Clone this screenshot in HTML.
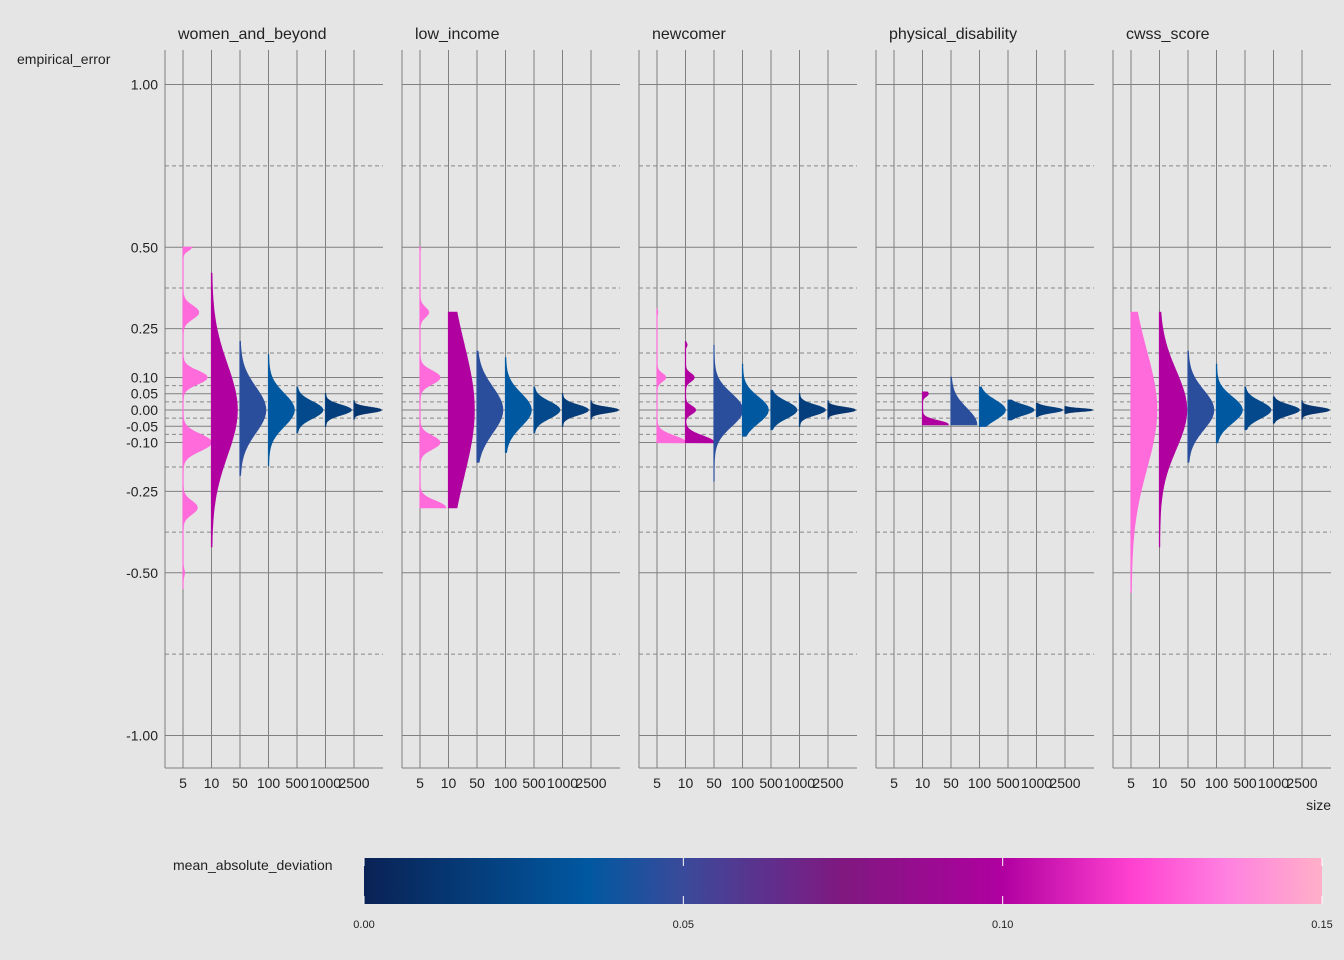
<!DOCTYPE html>
<html><head><meta charset="utf-8"><style>
body{margin:0;background:#e5e5e5;font-family:"Liberation Sans",sans-serif}
svg{display:block}
text{font-family:"Liberation Sans",sans-serif;fill:#222}
</style></head><body>
<svg id="c" width="1344" height="960"></svg>
<script>
const panels=["women_and_beyond","low_income","newcomer","physical_disability","cwss_score"];
const sizes=["5","10","50","100","500","1000","2500"];
const yTicks=[1,0.5,0.25,0.1,0.05,0,-0.05,-0.1,-0.25,-0.5,-1];
const yTickLabels=["1.00","0.50","0.25","0.10","0.05","0.00","-0.05","-0.10","-0.25","-0.50","-1.00"];
const yMinor=[0.75,0.375,0.175,0.075,0.025,-0.025,-0.075,-0.175,-0.375,-0.75];
const cbTicks=[0,0.05,0.10,0.15];
const cbLabels=["0.00","0.05","0.10","0.15"];
const madWomen=[0.13,0.10,0.046,0.035,0.025,0.018,0.012];
const madLow=[0.13,0.10,0.046,0.035,0.025,0.018,0.012];
const madNew=[0.13,0.10,0.046,0.035,0.025,0.018,0.012];
const madPhys=[null,0.10,0.046,0.035,0.025,0.018,0.012];
const madCwss=[0.13,0.10,0.046,0.035,0.025,0.018,0.012];
const shWomen=[
 [[[0.5,0.01,0.3],[0.3,0.02,0.55],[0.1,0.02,0.85],[-0.1,0.025,1.0],[-0.3,0.02,0.5],[-0.5,0.01,0.05]],-0.55,0.5],
 [[[0,0.14,0.9]],-0.42,0.42],
 [[[0,0.07,0.9]],-0.2,0.21],
 [[[0,0.05,0.9]],-0.17,0.17],
 [[[0,0.025,0.9]],-0.07,0.07],
 [[[0,0.015,0.9]],-0.05,0.05],
 [[[0,0.008,0.95]],-0.03,0.03]];
const shLow=[
 [[[0.5,0.005,0.02],[0.3,0.015,0.3],[0.1,0.02,0.7],[-0.1,0.02,0.7],[-0.3,0.02,0.9]],-0.3,0.5],
 [[[0,0.2,0.9]],-0.3,0.3],
 [[[0,0.07,0.9]],-0.16,0.18],
 [[[0,0.05,0.9]],-0.13,0.16],
 [[[0,0.025,0.9]],-0.07,0.07],
 [[[0,0.015,0.9]],-0.05,0.05],
 [[[0,0.008,0.95]],-0.03,0.03]];
const shNew=[
 [[[0.3,0.005,0.02],[0.1,0.012,0.3],[-0.1,0.02,1.0]],-0.1,0.31],
 [[[0.2,0.005,0.05],[0.1,0.012,0.3],[0,0.012,0.35],[-0.1,0.02,1.0]],-0.1,0.21],
 [[[0,0.05,1.0]],-0.22,0.2],
 [[[0,0.04,0.9]],-0.08,0.14],
 [[[0,0.025,0.9]],-0.06,0.06],
 [[[0,0.015,0.9]],-0.05,0.05],
 [[[0,0.008,0.95]],-0.03,0.03]];
const shPhys=[
 null,
 [[[0.05,0.008,0.2],[-0.045,0.012,0.9]],-0.045,0.055],
 [[[-0.045,0.05,0.9]],-0.045,0.1],
 [[[0,0.03,0.9]],-0.05,0.07],
 [[[0,0.015,0.9]],-0.03,0.03],
 [[[0,0.008,0.9]],-0.02,0.02],
 [[[0,0.004,0.95]],-0.01,0.01]];
const shCwss=[
 [[[0,0.18,0.9]],-0.56,0.3],
 [[[0,0.12,0.95]],-0.42,0.3],
 [[[0,0.06,0.9]],-0.16,0.18],
 [[[0,0.04,0.9]],-0.1,0.14],
 [[[0,0.025,0.9]],-0.06,0.07],
 [[[0,0.015,0.9]],-0.04,0.04],
 [[[0,0.008,0.95]],-0.03,0.03]];
const mads=[madWomen,madLow,madNew,madPhys,madCwss];
const shapes=[shWomen,shLow,shNew,shPhys,shCwss];

const NS="http://www.w3.org/2000/svg";
const svgRoot=document.getElementById('c');
function el(t,a,p){const e=document.createElementNS(NS,t);for(const k in a)e.setAttribute(k,a[k]);(p||svgRoot).appendChild(e);return e;}
const panelLeft=[165,402,639,876,1113],panelW=218,panelTop=50,panelBottom=768;
const yScale=v=>410-v*325.5;
const xCat=(p,k)=>panelLeft[p]+18+k*28.5;
const stops=[[0,[10,34,85]],[0.035,[0,88,160]],[0.05,[58,74,154]],[0.075,[128,24,128]],[0.10,[176,0,160]],[0.12,[255,64,208]],[0.135,[255,128,224]],[0.15,[255,176,200]]];
function col(v){for(let i=1;i<stops.length;i++){if(v<=stops[i][0]){const a=stops[i-1][0],ca=stops[i-1][1],b=stops[i][0],cb=stops[i][1];const t=(v-a)/(b-a);return 'rgb('+ca.map((c,j)=>Math.round(c+(cb[j]-c)*t)).join(',')+')';}}return 'rgb(255,176,200)';}
const defs=el('defs',{});
const lg=el('linearGradient',{id:'cbg',x1:0,x2:1,y1:0,y2:0},defs);
stops.forEach(s=>el('stop',{offset:s[0]/0.15,'stop-color':'rgb('+s[1].join(',')+')'},lg));

panels.forEach((name,p)=>{
 const g=el('g',{});
 
 
 const L=panelLeft[p];
 yMinor.forEach(v=>el('line',{x1:L,x2:L+panelW,y1:yScale(v),y2:yScale(v),stroke:'#888','stroke-dasharray':'4,3'},g));
 yTicks.forEach(v=>el('line',{x1:L,x2:L+panelW,y1:yScale(v),y2:yScale(v),stroke:'#808080'},g));
 sizes.forEach((s,k)=>el('line',{x1:xCat(p,k),x2:xCat(p,k),y1:panelTop,y2:panelBottom,stroke:'#808080'},g));
 el('line',{x1:L,x2:L,y1:panelTop,y2:panelBottom,stroke:'#808080'},g);
 el('line',{x1:L,x2:L+panelW,y1:panelBottom,y2:panelBottom,stroke:'#808080'},g);
 const t=el('text',{x:L+13,y:39,'font-size':16},g);t.textContent=name;
 
 
 sizes.forEach((s,k)=>{const tx=el('text',{x:xCat(p,k),y:788,'font-size':14,'text-anchor':'middle',fill:'#444'},g);tx.textContent=s;
  
  });
 shapes[p].forEach((sh,k)=>{
  if(!sh)return;
  const modes=sh[0],lo=sh[1],hi=sh[2],x0=xCat(p,k);
  const pts=[];const N=160;
  for(let i=0;i<=N;i++){const v=lo+(hi-lo)*i/N;let w=0;modes.forEach(m=>{w=Math.max(w,m[2]*Math.exp(-0.5*((v-m[0])/m[1])**2));});pts.push([x0+w*28.5,yScale(v)]);}
  const d='M'+x0+','+yScale(lo)+' '+pts.map(q=>'L'+q[0].toFixed(1)+','+q[1].toFixed(1)).join(' ')+' L'+x0+','+yScale(hi)+'Z';
  const v=el('path',{d:d,fill:col(mads[p][k]),stroke:col(mads[p][k]),'stroke-width':1.2},g);
  
  
 });
});
yTicks.forEach((v,i)=>{const t=el('text',{x:158,y:yScale(v)+5,'font-size':14,'text-anchor':'end',fill:'#444'});t.textContent=yTickLabels[i];
 
 });
let tt=el('text',{x:17,y:64,'font-size':14});tt.textContent='empirical_error';


tt=el('text',{x:1331,y:810,'font-size':14,'text-anchor':'end'});tt.textContent='size';


tt=el('text',{x:173,y:870,'font-size':14});tt.textContent='mean_absolute_deviation';


const cbr=el('rect',{x:364,y:858,width:958,height:46,fill:'url(#cbg)'});


cbTicks.forEach((v,i)=>{const x=364+v/0.15*958;
 el('line',{x1:x,x2:x,y1:858,y2:866,stroke:'#fff'});el('line',{x1:x,x2:x,y1:896,y2:904,stroke:'#fff'});
 const tx=el('text',{x:x,y:928,'font-size':11,'text-anchor':'middle'});tx.textContent=cbLabels[i];
 
 });
</script>
</body></html>
